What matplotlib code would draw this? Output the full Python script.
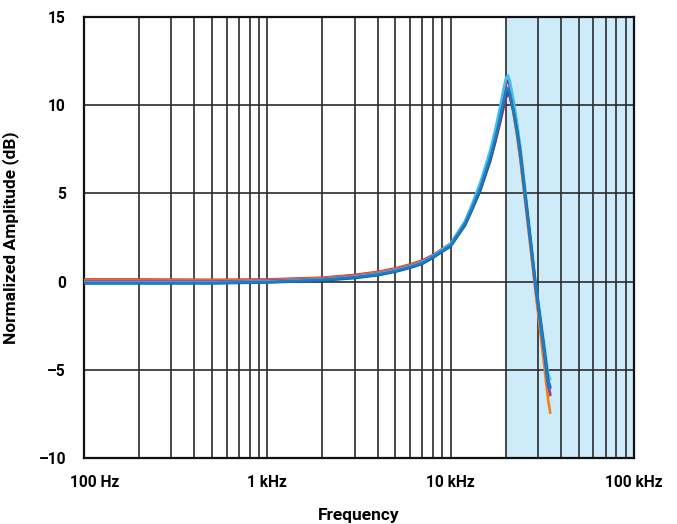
import matplotlib.pyplot as plt
from matplotlib.ticker import FixedLocator, LogLocator, NullFormatter
from matplotlib.transforms import ScaledTranslation

plt.rcParams['font.family'] = ['Roboto', 'DejaVu Sans']

# frequency points (Hz)
freq = [100, 200, 500, 1000, 2000, 3000, 4000, 5000, 6000, 7000, 8000, 10000,
        12000, 13000, 14500, 16400, 17500, 18600, 19500, 20000, 20500, 21000,
        22000, 23000, 24000, 26000, 28000, 29000, 30000, 32000, 34000, 35000]

# normalized amplitude (dB) for each measured unit
amp_red = [0.12, 0.12, 0.1, 0.12, 0.22, 0.38, 0.55, 0.75, 0.97, 1.2, 1.5, 2.15,
           3.3, 4.05, 5.2, 6.8, 7.9, 9.0, 9.9, 10.4, 10.6, 10.5,
           9.6, 8.4, 7.0, 3.9, 1.0, -0.4, -1.6, -3.9, -6.0, -6.5]
amp_orange = [0.05, 0.05, 0.05, 0.08, 0.18, 0.33, 0.5, 0.7, 0.92, 1.15, 1.45, 2.1,
              3.3, 4.1, 5.3, 7.0, 8.1, 9.3, 10.3, 10.8, 11.0, 10.7,
              9.6, 8.3, 6.9, 3.8, 0.9, -0.5, -1.8, -4.3, -6.7, -7.5]
amp_purple = [0.0, 0.0, 0.0, 0.05, 0.15, 0.3, 0.46, 0.66, 0.88, 1.12, 1.45, 2.15,
              3.4, 4.25, 5.5, 7.25, 8.4, 9.7, 10.7, 11.2, 11.4, 11.1,
              10.0, 8.8, 7.4, 4.2, 1.2, -0.2, -1.4, -3.6, -5.9, -6.4]
amp_lightblue = [-0.05, -0.05, -0.05, 0.0, 0.12, 0.28, 0.44, 0.64, 0.86, 1.1, 1.45, 2.15,
                 3.45, 4.3, 5.6, 7.4, 8.6, 9.9, 11.0, 11.5, 11.7, 11.4,
                 10.3, 9.0, 7.6, 4.4, 1.4, 0.0, -1.1, -3.2, -5.2, -5.6]
amp_blue = [-0.08, -0.08, -0.08, -0.03, 0.1, 0.25, 0.4, 0.6, 0.82, 1.05, 1.4, 2.05,
            3.3, 4.1, 5.3, 7.0, 8.1, 9.3, 10.3, 10.75, 10.95, 10.7,
            9.7, 8.5, 7.2, 4.1, 1.2, -0.2, -1.3, -3.5, -5.7, -6.1]
amp_darkblue = [-0.1, -0.1, -0.1, -0.05, 0.06, 0.2, 0.36, 0.56, 0.78, 1.0, 1.35, 2.0,
                3.2, 4.0, 5.15, 6.85, 7.95, 9.15, 10.1, 10.55, 10.8, 10.6,
                9.7, 8.6, 7.3, 4.2, 1.3, -0.1, -1.2, -3.4, -5.6, -6.0]

series = [
    (amp_red, '#e0353f'),
    (amp_orange, '#f07f2a'),
    (amp_purple, '#7a4fa0'),
    (amp_lightblue, '#45c0ec'),
    (amp_darkblue, '#1f4f9a'),
    (amp_blue, '#1a7cc2'),
]

y_ticks = [-10, -5, 0, 5, 10, 15]
y_labels = ['\u201310', '\u20135', '0', '5', '10', '15']
x_ticks = [100, 1000, 10000, 100000]
x_labels = ['100 Hz', '1 kHz', '10 kHz', '100 kHz']

fig = plt.figure(figsize=(6.77, 5.24), dpi=100)
ax = fig.add_axes([0.124, 0.126, 0.8125, 0.8416])

ax.axvspan(20000, 100000, color='#cdebf8', zorder=0)

for amp, col in series:
    ax.plot(freq, amp, color=col, lw=1.9, zorder=3, solid_capstyle='butt')

ax.set_xscale('log')
ax.set_xlim(100, 100000)
ax.set_ylim(-10, 15)

ax.xaxis.set_major_locator(FixedLocator(x_ticks))
ax.xaxis.set_minor_locator(LogLocator(base=10, subs=range(2, 10)))
ax.xaxis.set_minor_formatter(NullFormatter())
ax.set_xticklabels(x_labels)
ax.set_yticks(y_ticks)
ax.set_yticklabels(y_labels)

ax.grid(True, which='major', axis='both', color='#2b2b2b', lw=1.2, zorder=1)
ax.grid(True, which='minor', axis='x', color='#2b2b2b', lw=1.2, zorder=1)
ax.set_axisbelow(True)

ax.tick_params(which='both', length=0, labelsize=11.2)
ax.tick_params(axis='x', pad=12)
ax.tick_params(axis='y', pad=13)
for lab in ax.get_xticklabels() + ax.get_yticklabels():
    lab.set_fontweight('bold')
# first frequency label sits a little right of its tick
first = ax.get_xticklabels()[0]
first.set_transform(first.get_transform() + ScaledTranslation(11 / 100, 0, fig.dpi_scale_trans))

for sp in ax.spines.values():
    sp.set_linewidth(1.6)
    sp.set_color('#111111')

ax.set_ylabel('Normalized Amplitude (dB)', fontsize=12.5, fontweight='bold', labelpad=14)
fig.text(0.53, 0.017, 'Frequency', fontsize=12.5, fontweight='bold', ha='center', va='center')

fig.savefig('out.png', dpi=100)
